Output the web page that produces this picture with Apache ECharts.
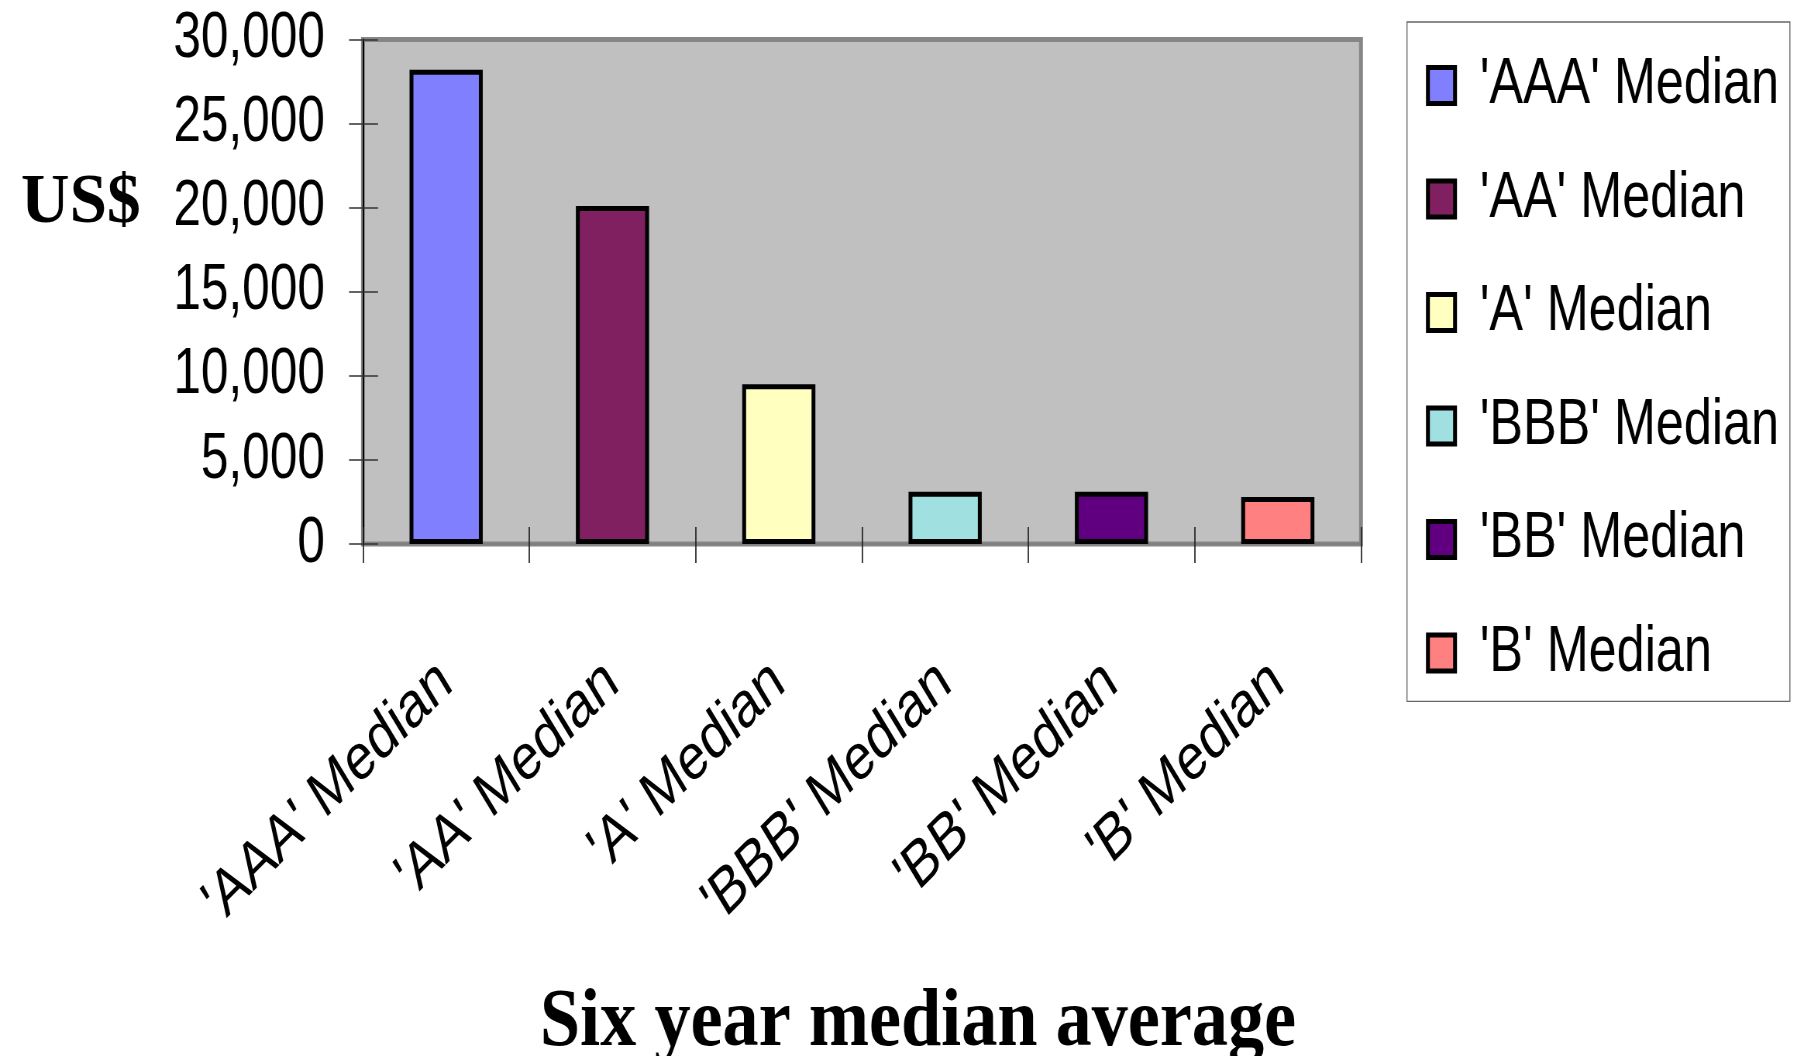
<!DOCTYPE html>
<html>
<head>
<meta charset="utf-8">
<script src="https://cdn.jsdelivr.net/npm/echarts@6/dist/echarts.min.js"></script>
<style>
  html, body { margin: 0; padding: 0; background: #ffffff; overflow: hidden; }
  #frame { width: 1797px; height: 1056px; overflow: hidden; position: relative; }
  /* the chart is laid out wide and displayed horizontally condensed */
  #chart { width: 2319px; height: 1056px; transform-origin: 0 0; transform: scaleX(0.774903); }
</style>
</head>
<body>
<div id="frame"><div id="chart"></div></div>
<script>
// Rating categories and their six-year median values (US$)
const categories = ["'AAA' Median", "'AA' Median", "'A' Median", "'BBB' Median", "'BB' Median", "'B' Median"];
const values = [28200, 20100, 9500, 3100, 3100, 2800];
const yMin = 0;
const yMax = 30000;
const yStep = 5000;

// Fill colour per category
const palette = ['#8080FF', '#802060', '#FFFFC0', '#A0E0E0', '#600080', '#FF8080'];

const SANS = '"Liberation Sans", Arial, sans-serif';
const SERIF = '"Liberation Serif", "Times New Roman", serif';

const chart = echarts.init(document.getElementById('chart'), null, { renderer: 'canvas' });

// One series per category so each gets its own legend entry; stacking keeps bars centred.
const series = categories.map((name, i) => ({
  type: 'bar',
  name: name,
  stack: 'ratings',
  barWidth: '44%',
  data: categories.map((c, j) => (j === i ? values[i] : '-')),
  itemStyle: { color: palette[i], borderColor: '#000000', borderWidth: 5 }
}));

const option = {
  animation: false,
  backgroundColor: '#ffffff',
  grid: {
    left: 468.4, top: 39.5, width: 1287.9, height: 504.5,
    show: true, backgroundColor: '#C0C0C0', borderColor: '#868686', borderWidth: 5
  },
  xAxis: [
    {
      type: 'category', data: categories, position: 'bottom',
      axisLine: { show: true, lineStyle: { color: '#808080', width: 2 } },
      axisTick: { show: true, inside: false, length: 19, lineStyle: { color: '#222', width: 1.7 } },
      axisLabel: {
        show: true, rotate: 38, margin: 130, interval: 0,
        color: '#000', fontFamily: SANS, fontSize: 65
      },
      splitLine: { show: false }
    },
    {
      // inner half of the crossing category ticks
      type: 'category', data: categories, position: 'bottom',
      axisLine: { show: false },
      axisTick: { show: true, inside: true, length: 17, lineStyle: { color: '#222', width: 1.7 } },
      axisLabel: { show: false },
      splitLine: { show: false }
    }
  ],
  yAxis: [
    {
      type: 'value', min: yMin, max: yMax, interval: yStep, position: 'left',
      axisLine: { show: true, lineStyle: { color: '#000', width: 2 } },
      axisTick: { show: true, inside: false, length: 18, lineStyle: { color: '#333', width: 1.5 } },
      axisLabel: {
        show: true, margin: 49, color: '#000', fontFamily: SANS, fontSize: 64,
        formatter: v => v.toLocaleString('en-US')
      },
      splitLine: { show: false }
    },
    {
      // inner half of the crossing value ticks
      type: 'value', min: yMin, max: yMax, interval: yStep, position: 'left',
      axisLine: { show: false },
      axisTick: { show: true, inside: true, length: 19.4, lineStyle: { color: '#333', width: 1.5 } },
      axisLabel: { show: false },
      splitLine: { show: false }
    }
  ],
  legend: {
    orient: 'vertical', left: 1815.7, top: 22,
    padding: [31, 14, 15.8, 24.5],
    itemWidth: 35, itemHeight: 36, itemGap: 48.5,
    backgroundColor: '#ffffff', borderColor: '#666666', borderWidth: 1.3,
    icon: 'rect',
    itemStyle: { borderColor: '#000', borderWidth: 5 },
    textStyle: { fontFamily: SANS, fontSize: 65, color: '#000', padding: [0, 0, 0, 27] },
    data: categories
  },
  graphic: [
    {
      type: 'text', x: 27.1, y: 204, scaleX: 1.24,
      style: { text: 'US$', font: 'bold 70px ' + SERIF, fill: '#000', textAlign: 'left', textVerticalAlign: 'middle' }
    },
    {
      type: 'text', x: 1184.7, y: 1024, scaleX: 1.123,
      style: { text: 'Six year median average', font: 'bold 83px ' + SERIF, fill: '#000', textAlign: 'center', textVerticalAlign: 'middle' }
    }
  ],
  series: series
};

chart.setOption(option);
</script>
</body>
</html>
